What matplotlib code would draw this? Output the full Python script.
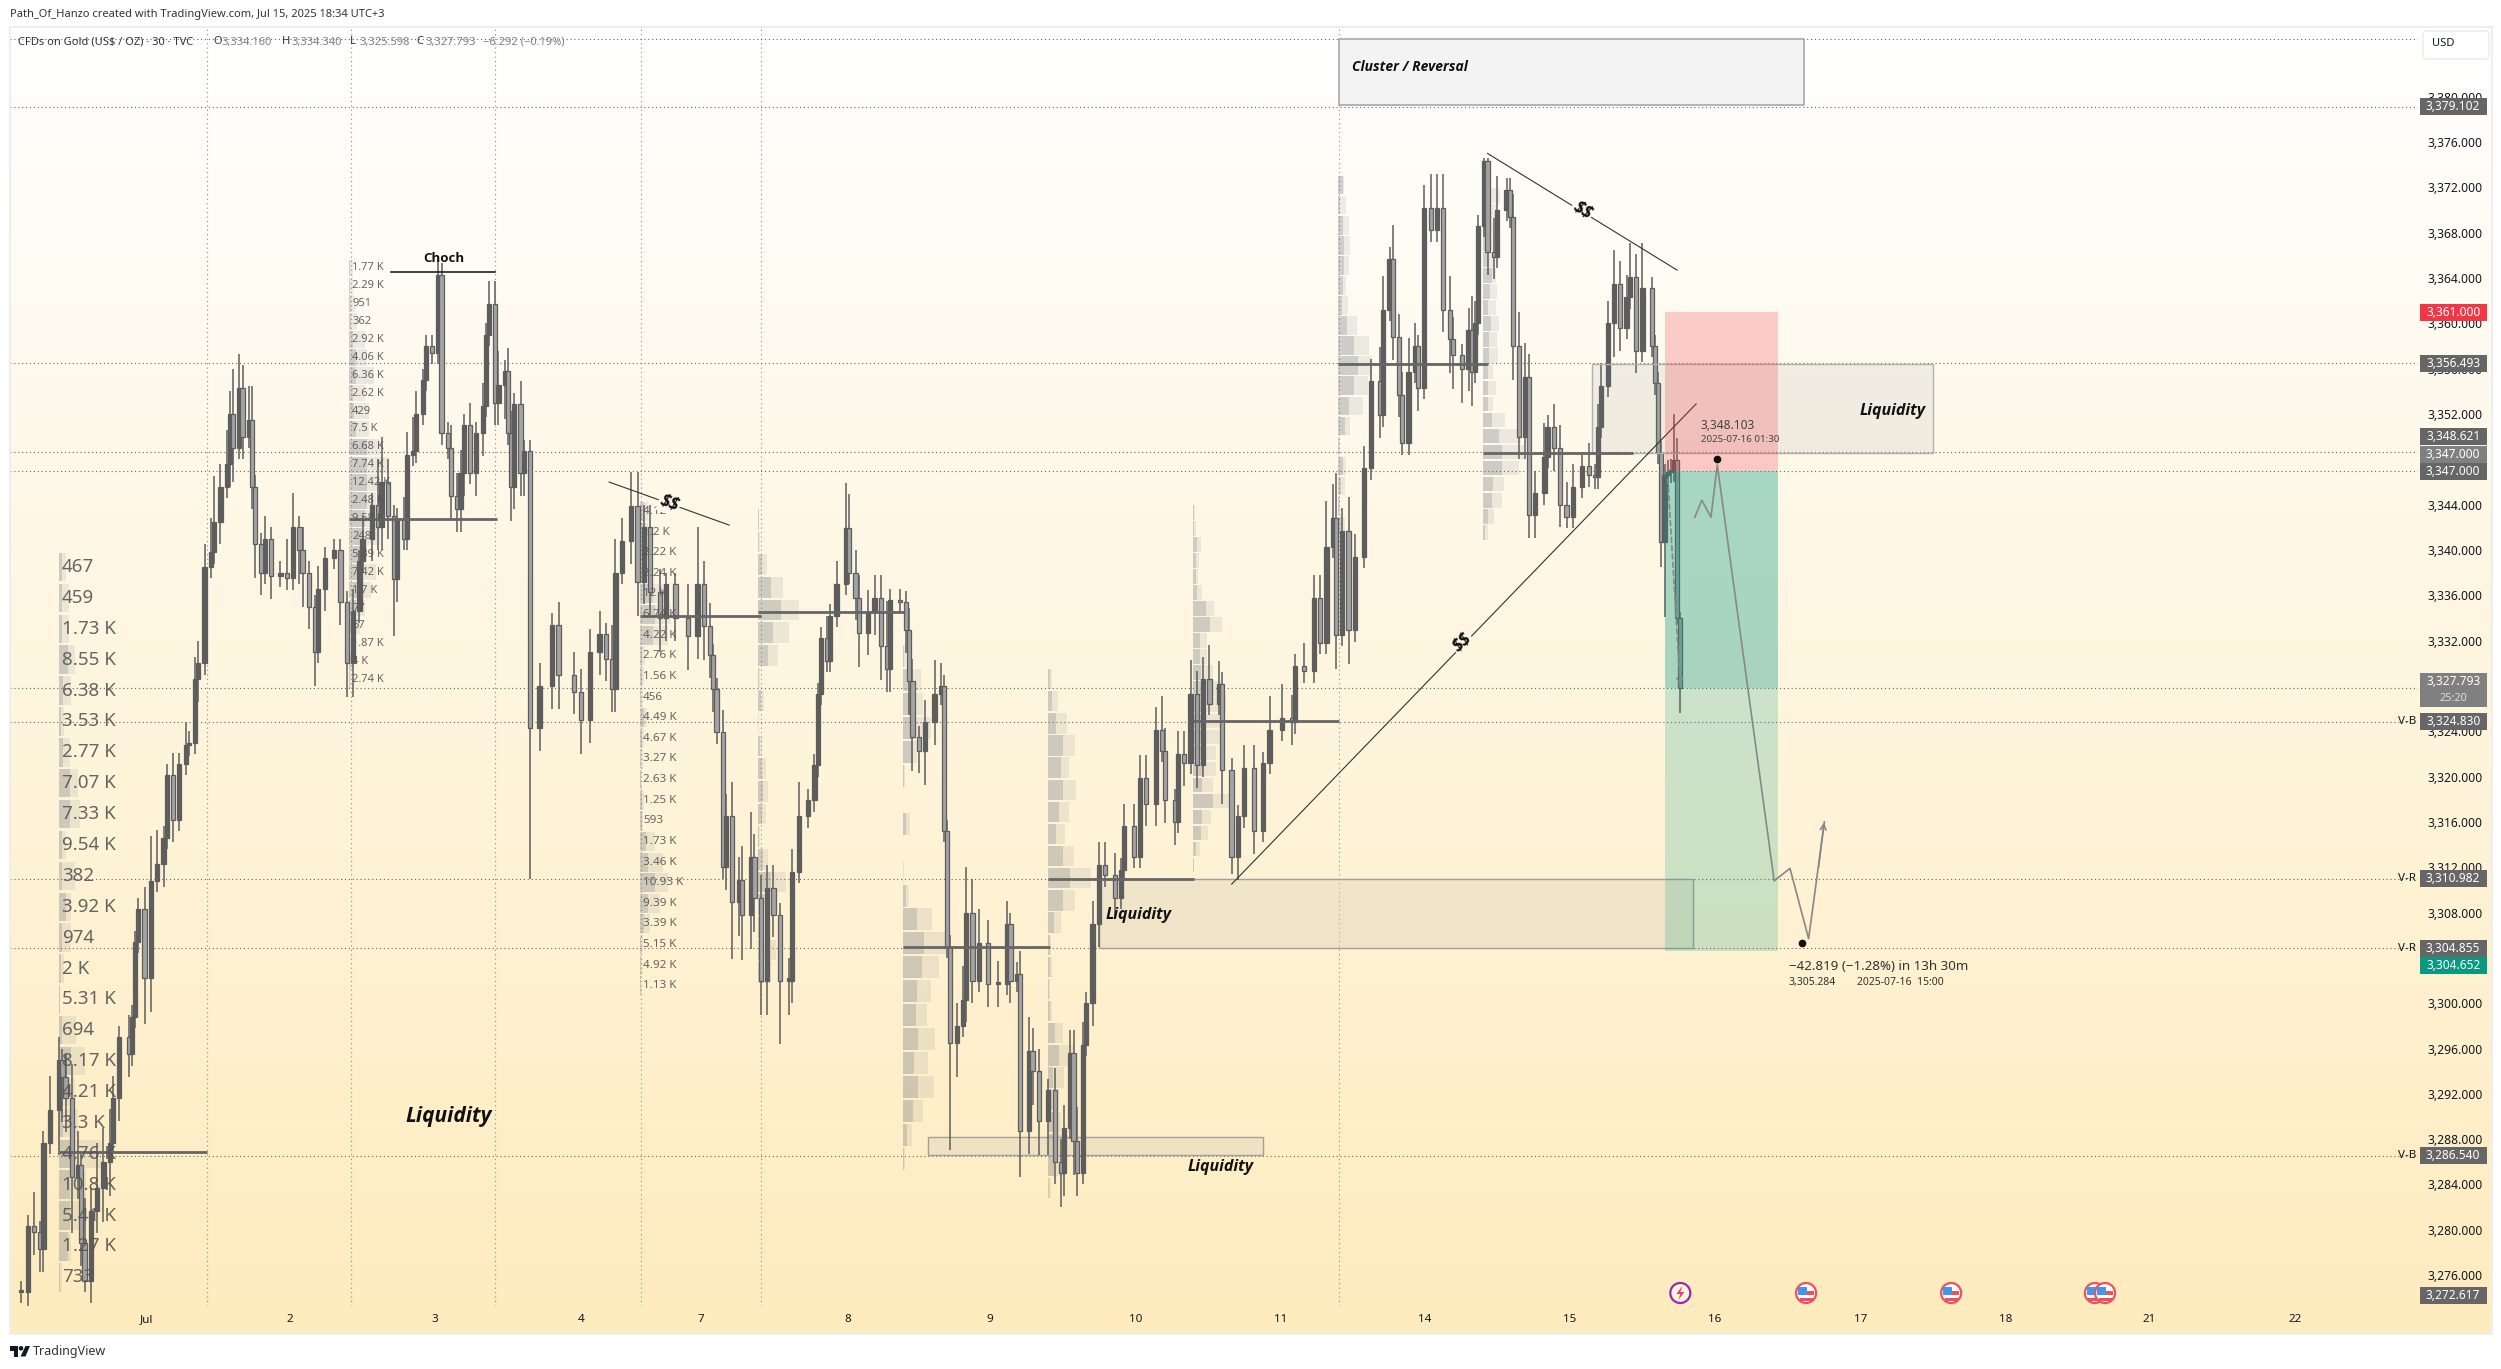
import numpy as np
import matplotlib
matplotlib.use("Agg")
import matplotlib.pyplot as plt
from matplotlib.patches import Rectangle, Circle, Polygon, FancyBboxPatch

plt.rcParams['font.family'] = ['Noto Sans', 'DejaVu Sans']

W, H = 2501, 1369

# 30 min bars (about every second bar)
bar_no = [2,4,6,8,9,11,14,15,16,18,
    20,21,22,24,26,28,30,31,33,36,
    37,38,39,41,43,45,47,48,50,52,
    54,55,57,58,60,62,63,65,67,68,
    69,71,72,74,75,76,78,79,81,84,
    86,88,90,91,93,95,96,98,101,103,
    105,107,109,110,113,115,116,118,120,121,
    123,124,126,127,129,130,132,134,135,137,
    138,140,141,142,144,146,148,149,150,152,
    153,155,156,157,158,160,161,163,166,170,
    172,177,179,182,185,187,189,190,192,195,
    197,199,201,204,206,209,213,216,218,220,
    221,222,224,225,227,229,230,233,234,236,
    238,240,242,245,246,248,251,253,254,255,
    257,258,260,263,264,266,267,270,272,274,
    276,277,280,282,283,284,286,288,291,293,
    294,295,296,298,300,301,303,305,308,311,
    314,315,317,318,321,322,324,327,329,331,
    332,334,335,336,338,339,341,343,345,348,
    350,351,354,356,358,361,363,364,367,368,
    370,372,374,376,378,381,382,385,387,389,
    392,395,397,401,404,405,408,411,413,415,
    417,418,420,422,424,427,429,432,433,435,
    436,438,439,441,443,444,446,448,450,452,
    454,455,458,460,461,462,463,465,466,468,
    469,472,473,474,476,478,479,481,484,485,
    487,489,491,493,496,498,500,501,502,504,
    506,508,510,511,513,515,518,519,520,521,
    522,523,524,525,526,527]

closes = [3274.5,3280.3,3279.8,3278.3,3287.7,3290.6,3295,3293.5,3291.6,3284.7,
    3285.7,3278.8,3275.5,3281.7,3283.7,3286,3287.7,3291.6,3297,3295.5,
    3298.8,3305.4,3308.3,3302.2,3310.8,3312.3,3314.6,3320.1,3316.2,3321.1,
    3322.8,3323,3328.6,3330,3338.5,3339.8,3342.5,3345.6,3347.6,3352,
    3349,3354.3,3350,3351.5,3345.6,3340.5,3338,3341,3337.7,3338,
    3337.5,3342,3340,3338,3335,3331,3336.6,3339.3,3340,3335.4,
    3330,3334.6,3339,3341,3344,3342,3346,3343,3337.4,3342.7,
    3341,3348.4,3348.7,3352,3355,3358,3357.4,3364.3,3350.3,3349,
    3344.8,3343.6,3346.8,3351,3346.8,3350.3,3352.7,3359,3361.7,3353,
    3354.6,3355.8,3350.3,3345.6,3352.9,3346.8,3348.7,3324.3,3328,3333.4,
    3329,3327.5,3325,3331,3332.6,3330.4,3327.7,3338,3340.8,3343.9,
    3337.2,3342,3336.3,3334,3337,3334,3332.4,3337,3333.3,3330.7,
    3327.7,3323.9,3312,3316.5,3308.9,3310.9,3307.8,3312.9,3309.3,3302,
    3310.2,3307.8,3302,3302,3311.6,3316.5,3317.9,3321,3327.3,3332.2,
    3330.2,3334.2,3337,3341.9,3338,3335.8,3332.7,3334.5,3335.8,3331.5,
    3329.5,3335.6,3335.4,3332.9,3328.4,3323.5,3322.3,3324.8,3327.3,3328,
    3315.2,3305,3296.5,3298,3300.3,3308,3302,3305.3,3301.7,3301.7,
    3307,3302,3302.6,3288.7,3295.8,3294,3289.6,3292.3,3286,3285,
    3289,3295.6,3287.8,3285,3296.3,3300,3307,3312.2,3311.3,3309.3,
    3311.8,3315.6,3312.9,3319.9,3317.6,3324.1,3322.3,3317.9,3316,3322,
    3321.2,3327.3,3321,3328.6,3326.4,3328.2,3320.6,3312.9,3316.5,3320.8,
    3315.2,3321.2,3324.1,3325.2,3324.8,3329.8,3329.3,3335.8,3331.8,3340.3,
    3342.8,3332.5,3341.7,3332.9,3339.4,3347.2,3354.9,3351.9,3361.2,3365.7,
    3358.8,3353.7,3349.4,3355.7,3358,3354.3,3370.2,3368.2,3370.2,3361.2,
    3358.6,3357.2,3356,3359.4,3355.7,3360,3368.6,3374.3,3366.3,3365.9,
    3370,3371.8,3369.4,3358,3350,3355.3,3343.1,3345,3348.2,3350.9,
    3349,3344,3342.9,3345.6,3347.4,3346.6,3346.4,3350.9,3354.5,3360,
    3363.5,3359.6,3362.3,3364.1,3357.6,3363.1,3358,3354.7,3348.6,3340.7,
    3346.6,3346.9,3347,3347.9,3334,3327.8]

wick_up = [1,1,3,1,1,3,2,1,2,3,
    3,1,4,2,4,3,3,2,1,2,
    1,1,1,2,4,3,1,1,2,1,
    2,1,2,2,2,3,4,2,3,2,
    4,3,2,3,3,1,1,2,1,1,
    3,3,1,2,1,1,2,1,1,1,
    1,2,1,2,1,4,4,2,1,1,
    2,2,3,2,1,1,1,1.5,1,1,
    2,2,2,1,2,1,2,1,2,2,
    3,1,2,2,1,2,1,1,2,1,
    2,2,2,2,2,1,3,3,2,3,
    3,2,2,2,1,1,3,5,2,2,
    1,1,2,2,3,2,3,4,2,2,
    2,2,1,2,2,3,1,1,1,1,
    2,1,2,4,3,2,2,2,2,2,
    4,1,1,1,2,2,1,2,3,2,
    1,1,1,2,3,4,3,3,2,2,
    2,1,1,2,3,2,2,1,2,2,
    2,2,2,3,2,1,2,2,2,2,
    1,2,2,2,2,2,3,2,1,2,
    2,3,2,2,3,2,1,1,1,2,
    2,1,3,3,2,1,2,2,2,4,
    3,4,2,3,2,2,2,3,3,1,
    3,2,2,3,2,1,2,3,3,3,
    3,2,1,2,3,2,1,0.3,0.3,3,
    3,1,1,2,3,3,2,2,3,1,
    2,2,2,2,1,2,1,2,2,2,
    3,2,2,3,2,4,1,1,1,1,
    1,1,1,4.1,2,0.5]

wick_dn = [1,2,2,2,2,1,4,4,3,5,
    2,2,1,2,2,3,3,1,2,2,
    1,1,1,4,3,1,2,1,2,1,
    1,1,1,2,1,1,1,2,1,2,
    3,1,2,1,2,3,2,1,2,1,
    1,1,3,3,2,3,1,2,1,2,
    3,3,1,1,2,2,2,2,5,2,
    1,1,1,1,1,1,1,1,1,1,
    2,2,2,2,1,2,2,1,1,2,
    2,3,1,3,2,2,2,13.3,2,2,
    3,2,3,2,2,2,2,2,1,2,
    3,2,2,3,2,2,3,2,3,2,
    2,1,1,2,5,3,4,3,3,3,
    3,2,5.6,3,2,1,1,1,1,1,
    1,1,1,1,1,2,3,2,2,3,
    2,2,1,2,3,3,2,3,2,1,
    1,1,9.5,3,1,2,2,1,2,2,
    1,2,1,4,2,3,3,3,2,3,
    2,1,3,2,1,1,2,2,1,1.5,
    1,1,1,1,2,2,1,2,2,1,
    2,1,2,1,1,1,3,1.5,2,1,
    2,1,1,1,2,1,1,1,1,1,
    1,3,1,3,1,1,1,2,1,1,
    2,2,1,1,1,2,1,1,1,2,
    3,3,3,2,3,1,1,1,2,2,
    1,1,1,3,2,2,2,2,1,1,
    2,2,1,1,1,1,1,1,1,1,
    3,2,1,1,2,1,1,1,1,2.2,
    6.6,1,1,1,0.5,2.2]

tick_bars = [41.5,87,133,179,217,263.5,308.5,354.5,400.5,446,492,538,584,630,675.5,721.5]
tick_labels = ['Jul','2','3','4','7','8','9','10','11','14','15','16','17','18','21','22']
price_ticks = list(range(3276, 3381, 4))

session_bars = [60.8,106.3,152,198,236,419]
level_prices = [3385.1,3379.102,3356.493,3348.621,3347,3327.793,3324.83,3310.982,3304.855,3286.54]

# price labels on the scale: value, colour
label_prices = [3379.102,3361.0,3356.493,3348.621,3347.0,3347.0,3324.83,3310.982,3304.855,3304.652,3286.54,3272.617]
label_colors = ['#666666','#f23645','#666666','#666666','#808080','#666666','#666666','#666666','#666666','#089981','#666666','#666666']
label_y = [3379.102,3361.0,3356.493,3350.0,3348.45,3346.9,3324.83,3310.982,3304.855,3303.3,3286.54,3274.2]

# volume profiles: row widths (total and darker part), labels
p1_total = [16,22,22,36,27,12,25,42,47,15,35,28,27,12,3,38,58,35,42,95,60,60,26,6]
p1_dark = [6,6,6,20,10,4,10,24,24,6,6,15,8,5,2,8,28,10,10,35,25,25,20,3]
p1_text = ['467','459','1.73 K','8.55 K','6.38 K','3.53 K','2.77 K','7.07 K','7.33 K','9.54 K','382','3.92 K',
           '974','2 K','5.31 K','694','8.17 K','4.21 K','3.3 K','4.76 K','10.8 K','5.41 K','1.27 K','733']
p2_total = [8,10,14,18,35,40,55,35,45,45,70,90,70,60,70,70,40,60,50,35,25,8,8,4]
p2_dark = [3,3,4,4,10,15,15,10,12,15,40,40,40,40,35,30,25,25,20,15,10,3,4,2]
p2_text = ['1.77 K','2.29 K','951','362','2.92 K','4.06 K','6.36 K','2.62 K','429','7.5 K','6.68 K','7.74 K',
           '12.42 K','2.48 K','9.58 K','248','5.39 K','7.42 K','1.7 K','77','67','1.87 K','4 K','2.74 K']
p3_total = [15,15,20,25,50,60,55,10,8,5,14,8,5,4,8,6,30,45,55,40,20,5,3,2]
p3_dark = [8,8,8,10,25,30,25,4,3,2,7,4,2,2,3,3,12,15,30,15,8,2,1,1]
p3_text = ['4.12 K','1.2 K','2.22 K','2.24 K','12 K','6.74 K','4.22 K','2.76 K','1.56 K','456','4.49 K','4.67 K',
           '3.27 K','2.63 K','1.25 K','593','1.73 K','3.46 K','10.93 K','9.39 K','3.39 K','5.15 K','4.92 K','1.13 K']
p4_total = [3,5,18,50,80,60,40,5,12,2,8,15,20,15,4,20,55,25,8,35,25]
p4_dark = [2,3,8,26,45,30,20,3,6,1,4,8,10,8,2,10,25,12,5,12,12]
p5_total = [5,35,40,55,28,4,1,14,0,3,12,57,85,70,55,48,63,50,60,40,18,4]
p5_dark = [2,12,15,22,20,2,0,6,0,1,5,28,42,37,27,25,30,22,30,20,8,2]
p6_total = [8,18,37,53,41,55,41,33,51,83,53,24,6,8,4,7,28,50,30,20,25,30,30,5]
p6_dark = [3,8,15,28,24,28,20,15,28,42,28,12,3,3,2,3,14,20,10,8,10,12,12,2]
p7_total = [3,5,15,12,10,18,42,56,28,28,40,55,65,60,60,45,45,40,70,35,30,14,2]
p7_dark = [1,2,8,6,5,8,25,33,14,14,15,20,25,20,20,20,20,18,40,18,15,6,1]
p8_total = [14,18,25,27,25,18,22,42,70,75,67,55,27,5,18,15,5,15]
p8_dark = [10,5,12,14,14,10,8,20,35,45,35,25,15,2,10,6,2,6]
p9_total = [14,38,28,25,28,25,28,32,28,36,30,34,22,28,22,48,85,92,80,47,42,25,10]
p9_dark = [4,12,10,10,8,10,20,15,12,18,14,14,10,12,10,20,35,42,42,22,20,10,4]

# point of control of each profile: from bar, to bar, price
poc_from = [13.9,105.7,197.8,235.1,281,327,372.8,418.7,464.6]
poc_to = [60.8,152.5,236,281.5,327.5,373,419,466,512]
poc_price = [3286.9,3342.7,3334.2,3334.5,3305,3311,3324.9,3356.4,3348.6]

path_bars = [531.6,533.8,536.7,538.7,556.7,561.7,567.6,572.6]
path_prices = [3342.9,3344.4,3342.9,3347.5,3310.8,3311.9,3305.7,3316]

event_bars = [566.8,612.7,658.2,661.4]

fig = plt.figure(figsize=(W/100, H/100), dpi=100, facecolor='white')

# background gradient
bg = fig.add_axes([10/W, 1-1334/H, (2492-10)/W, (1334-27)/H])
grad = np.linspace(0, 1, 256).reshape(-1, 1)
c0 = np.array([255, 255, 255])/255
c1 = np.array([254, 236, 190])/255
bg.imshow(c0 + grad[:, :, None]*(c1-c0), aspect='auto')
bg.axis('off')

ax = fig.add_axes([10/W, 1-1306/H, (2418-10)/W, (1306-27)/H])
ax.patch.set_alpha(0)
ax.set_xlim((10-15)/3.16, (2418-15)/3.16)
ax.set_ylim(3380-(1306-96.8)/11.33, 3380+(96.8-27)/11.33)
for s in ax.spines.values():
    s.set_visible(False)

ax.yaxis.tick_right()
ax.set_yticks(price_ticks)
ax.set_yticklabels(['{:,.3f}'.format(p) for p in price_ticks], fontsize=8.7, color='#131722')
ax.tick_params(axis='y', length=0, pad=7)
ax.set_xticks(tick_bars)
ax.set_xticklabels(tick_labels, fontsize=8.4, color='#131722')
ax.tick_params(axis='x', length=0, pad=6)

for b in session_bars:
    ax.axvline(b, color='#8c8c8c', lw=0.8, ls=(0, (1, 3)), zorder=1)
for p in level_prices:
    ax.axhline(p, color='#666666', lw=0.8, ls=(0, (1, 2.5)), zorder=1)


def draw_profile(left, top, step, total, dark, scale, text=None, fs=8, text_off=1):
    for i in range(len(total)):
        y = top - i*step
        ax.barh(y, total[i]*scale, height=step*0.92, left=left, color='#787b86', alpha=0.13, lw=0, zorder=2)
        ax.barh(y, dark[i]*scale, height=step*0.92, left=left, color='#787b86', alpha=0.25, lw=0, zorder=2)
        if text:
            ax.text(left+text_off, y, text[i], fontsize=fs, color='#555555', va='center', ha='left', zorder=5, alpha=0.9)


draw_profile(13.9, 3338.5, 2.726, p1_total, p1_dark, 1/7.08, p1_text, fs=13.5)
draw_profile(105.7, 3364.9, 1.58, p2_total, p2_dark, 1/7.08, p2_text, fs=8)
draw_profile(197.8, 3343.4, 1.82, p3_total, p3_dark, 1/6.19, p3_text, fs=8.4)
draw_profile(235.1, 3342.7, 2.0, p4_total, p4_dark, 1/6.19)
draw_profile(281, 3330.6, 2.11, p5_total, p5_dark, 1/6.19)
draw_profile(327, 3328.6, 1.953, p6_total, p6_dark, 1/6.19)
draw_profile(372.8, 3343.3, 1.414, p7_total, p7_dark, 1/6.19)
draw_profile(418.7, 3372.2, 1.77, p8_total, p8_dark, 1/7.08)
draw_profile(464.6, 3372.7, 1.415, p9_total, p9_dark, 1/7.08)

for a, b, p in zip(poc_from, poc_to, poc_price):
    ax.plot([a, b], [p, p], color='#666666', lw=2, zorder=4, solid_capstyle='butt')

# candles
prev = closes[0]
for n, c, up, dn in zip(bar_no, closes, wick_up, wick_dn):
    o = prev
    rising = c >= o
    ax.vlines(n, min(o, c)-dn, max(o, c)+up, color='#5d5d5d', lw=1.1, zorder=3)
    ax.bar(n, max(abs(c-o), 0.2), bottom=min(o, c), width=1.35,
           color='#5d5d5d' if rising else '#a4a4a4', edgecolor='#5d5d5d', lw=0.9, zorder=3)
    prev = c

# boxes
ax.add_patch(Rectangle((419, 3379.3), 147, 5.8, fc='#f3f3f3', ec='#a8a8a8', lw=1.2, zorder=2))
ax.add_patch(Rectangle((499, 3348.6), 108, 7.8, fc='#787b86', alpha=0.1, zorder=3))
ax.add_patch(Rectangle((499, 3348.6), 108, 7.8, fc='none', ec='#b0b0b0', lw=1, zorder=3))
ax.add_patch(Rectangle((343, 3304.855), 188, 6.13, fc='#d9cfb8', alpha=0.36, lw=0, zorder=2))
ax.add_patch(Rectangle((343, 3304.855), 188, 6.13, fc='none', ec='#a0a0a0', lw=1, zorder=2))
ax.add_patch(Rectangle((289, 3286.6), 106, 1.6, fc='#d9cfb8', alpha=0.36, lw=0, zorder=2))
ax.add_patch(Rectangle((289, 3286.6), 106, 1.6, fc='none', ec='#a0a0a0', lw=1, zorder=2))

# long position tool
ax.add_patch(Rectangle((522, 3347), 36, 14, fc='#f23645', alpha=0.24, lw=0, zorder=6))
ax.add_patch(Rectangle((522, 3327.793), 36, 19.207, fc='#089981', alpha=0.35, lw=0, zorder=6))
ax.add_patch(Rectangle((522, 3304.6), 36, 23.193, fc='#089981', alpha=0.2, lw=0, zorder=6))

# trend lines
line_col = '#333333'
ax.plot([119, 152], [3364.5, 3364.5], color='#222222', lw=1.2, zorder=5)
ax.plot([188, 226], [3346, 3342.2], color=line_col, lw=0.8, zorder=5)
ax.plot([466, 526], [3375, 3364.7], color=line_col, lw=0.8, zorder=5)
ax.plot([385, 532], [3310.5, 3352.9], color=line_col, lw=0.8, zorder=5)

lab = dict(family=['Open Sans', 'DejaVu Sans'], fontweight='bold', style='italic', color='#111111', ha='center', va='center', zorder=8)
ax.text(137.4, 3290, 'Liquidity', fontsize=15, **lab)
ax.text(355.7, 3307.8, 'Liquidity', fontsize=11.5, **lab)
ax.text(381.6, 3285.5, 'Liquidity', fontsize=11.5, **lab)
ax.text(594.3, 3352.3, 'Liquidity', fontsize=11.5, **lab)
ax.text(441.5, 3382.6, 'Cluster / Reversal', fontsize=10, **lab)
ax.text(135.7, 3365.7, 'Choch', fontsize=9.5, family=['Open Sans', 'DejaVu Sans'], fontweight='bold', color='#111111', ha='center', va='center', zorder=8)

ss = dict(family=['Open Sans', 'DejaVu Sans'], fontweight='bold', style='italic', fontsize=12.5, color='#111111',
          ha='center', va='center', zorder=8, parse_math=False)
ax.text(207, 3344.1, '$$', rotation=-20, bbox=dict(fc='#fff8ea', ec='none', pad=1), **ss)
ax.text(496, 3370, '$$', rotation=-32, bbox=dict(fc='#fffcf2', ec='none', pad=1), **ss)
ax.text(458, 3331.8, '$$', rotation=42, bbox=dict(fc='#fff6e2', ec='none', pad=1), **ss)

# forecast path and the dashed drop
ax.plot(path_bars, path_prices, color='#888888', lw=1.2, zorder=7)
ax.annotate('', xy=(path_bars[-1], path_prices[-1]+0.2), xytext=(path_bars[-2]+3, path_prices[-2]+6),
            arrowprops=dict(arrowstyle='->', color='#888888', lw=1.2), zorder=7)
ax.annotate('', xy=(527, 3327.8), xytext=(523, 3346.5),
            arrowprops=dict(arrowstyle='->', color='#888888', lw=1.2, ls=(0, (3, 2))), zorder=7)
ax.plot([538.7, 565.6], [3348.0, 3305.3], ls='none', marker='o', ms=4.5, color='#111111', zorder=8)
ax.text(533.4, 3351, '3,348.103', fontsize=8.6, color='#444444', va='center', zorder=8)
ax.text(533.4, 3349.75, '2025-07-16 01:30', fontsize=7, color='#444444', va='center', zorder=8)
ax.text(561.3, 3303.2, '\u221242.819 (\u22121.28%) in 13h 30m', fontsize=9.6, color='#333333', va='center', zorder=8)
ax.text(561.3, 3301.85, '3,305.284', fontsize=7.5, color='#333333', va='center', zorder=8)
ax.text(583, 3301.85, '2025-07-16  15:00', fontsize=7.5, color='#333333', va='center', zorder=8)

# scale labels
ytr = ax.get_yaxis_transform()
for p, py, col in zip(label_prices, label_y, label_colors):
    ax.add_patch(Rectangle((1.0008, py-0.75), 0.0278, 1.5, fc=col, lw=0, transform=ytr, clip_on=False, zorder=9))
    ax.text(1.0146, py, '{:,.3f}'.format(p), fontsize=8.6, color='white', ha='center', va='center',
            transform=ytr, clip_on=False, zorder=10)
ax.add_patch(Rectangle((1.0008, 3326.1), 0.0278, 3.0, fc='#808080', lw=0, transform=ytr, clip_on=False, zorder=9))
ax.text(1.0146, 3328.4, '3,327.793', fontsize=8.6, color='white', ha='center', va='center', transform=ytr, zorder=10)
ax.text(1.0146, 3326.85, '25:20', fontsize=7.8, color='#dddddd', ha='center', va='center', transform=ytr, zorder=10)
for p, t in zip([3324.83, 3310.982, 3304.855, 3286.54], ['V-B', 'V-R', 'V-R', 'V-B']):
    ax.text(0.9955, p, t, fontsize=8.4, fontweight='bold', color='#131722', ha='center', va='center', transform=ytr, zorder=10)

# overlay in pixels for the page furniture
ov = fig.add_axes([0, 0, 1, 1])
ov.set_xlim(0, W)
ov.set_ylim(H, 0)
ov.axis('off')
ov.patch.set_alpha(0)

ov.add_patch(Rectangle((10, 27), 2482, 1307, fc='none', ec='#eeeeee', lw=1.5))
ov.text(10, 15, 'Path_Of_Hanzo created with TradingView.com, Jul 15, 2025 18:34 UTC+3', fontsize=8, color='#333333', va='center')
ov.text(18, 42, 'CFDs on Gold (US$ / OZ) \u00b7 30 \u00b7 TVC', fontsize=8, color='#333333', va='center')
for x, k, v in zip([213, 282, 350, 416], 'OHLC', ['3,334.160', '3,334.340', '3,325.598', '3,327.793']):
    ov.text(x, 42, k, fontsize=8, color='#333333', va='center')
    ov.text(x+9, 42, v, fontsize=8, color='#808080', va='center')
ov.text(483, 42, '\u22126.292 (\u22120.19%)', fontsize=8, color='#808080', va='center')

ov.add_patch(FancyBboxPatch((2426, 34), 60, 22, boxstyle='round,pad=3,rounding_size=4', fc='white', ec='#eeeeee', lw=1.2))
ov.text(2443, 44, 'USD', fontsize=8, color='#131722', ha='center', va='center')

# logo
ov.add_patch(Polygon([(10, 1346), (18, 1346), (18, 1356.5), (13.5, 1356.5), (13.5, 1350.5), (10, 1350.5)], fc='#131722'))
ov.add_patch(Circle((21, 1348.3), 2.3, fc='#131722'))
ov.add_patch(Polygon([(25.5, 1346), (30, 1346), (25.5, 1356.5), (20.5, 1356.5)], fc='#131722'))
ov.text(33, 1351, 'TradingView', fontsize=9, color='#333333', va='center')

# calendar icons
for b in event_bars:
    x = 15+3.16*b
    ov.add_patch(Circle((x, 1293), 10, fc='white', ec='#f0505a', lw=1.6))
    ov.add_patch(Rectangle((x-8, 1287), 9, 8, fc='#3f97ee', lw=0))
    ov.add_patch(Rectangle((x+1, 1291), 7, 4, fc='#f0505a', lw=0))
    ov.add_patch(Rectangle((x-6.5, 1297.5), 13, 3, fc='#f0505a', lw=0))
x = 15+3.16*527
ov.add_patch(Circle((x, 1293), 10, fc='#fff6d8', ec='#9c27b0', lw=1.6))
ov.add_patch(Polygon([(x+2, 1286), (x-4, 1294), (x, 1294), (x-2, 1300), (x+4, 1292), (x, 1292)], fc='#e9358f'))

fig.savefig('out.png', dpi=100)
